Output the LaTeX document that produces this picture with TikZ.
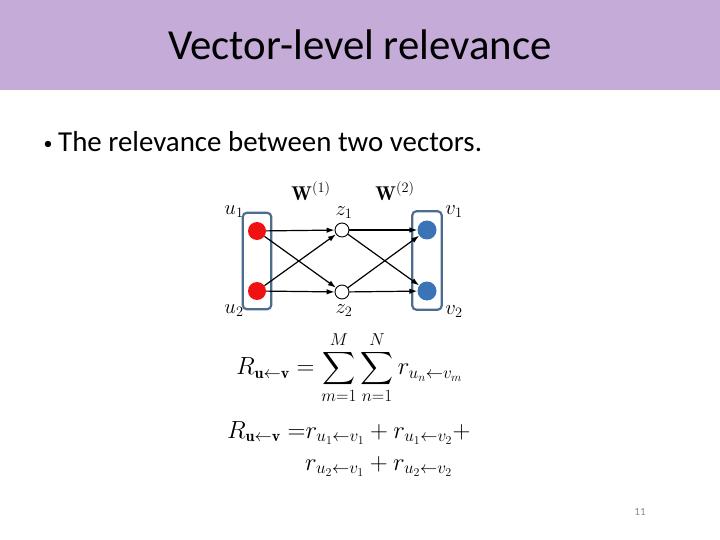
\documentclass[tikz,border=0pt]{standalone}
\usepackage{amsmath,amssymb}
\usepackage{fontspec}
\setsansfont{Carlito}
\usepackage{tikz}
\usetikzlibrary{positioning,arrows.meta,fit}
\definecolor{banner}{HTML}{C4ABD8}
\definecolor{boxedge}{HTML}{4E6D8E}
\definecolor{inred}{HTML}{F01212}
\definecolor{outblue}{HTML}{3A74B6}
\definecolor{pagegray}{HTML}{8C8C8C}

\begin{document}
\begin{tikzpicture}[x=1bp,y=-1bp,
    inunit/.style={circle,fill=inred,minimum size=18bp,inner sep=0pt},
    hidunit/.style={circle,draw=black,line width=0.9bp,fill=white,minimum size=14bp,inner sep=0pt},
    outunit/.style={circle,fill=outblue,minimum size=19bp,inner sep=0pt},
    layerbox/.style={draw=boxedge,line width=2.2bp,rounded corners=4bp,inner xsep=5bp,inner ysep=9bp},
    wire/.style={-{Latex[length=8bp,width=5.5bp]},line width=1.2bp},
    lbl/.style={inner sep=0pt,font=\fontsize{20}{24}\selectfont},
    eqn/.style={inner sep=0pt,font=\fontsize{23}{28}\selectfont}]
    \useasboundingbox (0,0) rectangle (720,540);
    \fill[banner] (0,0) rectangle (720,90);
    \node (title) at (360,45) {\sffamily\fontsize{43}{50}\selectfont Vector-level relevance};
    \node[inner sep=0pt] (bullet) at (48,145) {\sffamily\fontsize{18}{22}\selectfont\textbullet};
    \node[anchor=base west,inner sep=0pt] (point) at (58,152) {\sffamily\fontsize{29}{34}\selectfont The relevance between two vectors.};

    % network
    \node[inunit] (u1) at (257,231) {};
    \node[inunit] (u2) at (257,291) {};
    \node[hidunit] (z1) at (342,230) {};
    \node[hidunit] (z2) at (342,292) {};
    \node[outunit] (v1) at (427,230) {};
    \node[outunit] (v2) at (427,291) {};
    \node[layerbox,fit=(u1)(u2)] (ubox) {};
    \node[layerbox,fit=(v1)(v2)] (vbox) {};
    \foreach \a in {u1,u2} \foreach \b in {z1,z2} \draw[wire] (\a) -- (\b);
    \foreach \a in {z1,z2} \foreach \b in {v1,v2} \draw[wire] (\a) -- (\b);

    \node[lbl] (lu1) at (234,212) {$u_1$};
    \node[lbl] (lu2) at (234,311) {$u_2$};
    \node[lbl] (lz1) at (344,213) {$z_1$};
    \node[lbl] (lz2) at (344,311) {$z_2$};
    \node[lbl] (lv1) at (454,212) {$v_1$};
    \node[lbl] (lv2) at (454,312) {$v_2$};
    \node[lbl] (w1) at (311,191) {$\mathbf{W}^{(1)}$};
    \node[lbl] (w2) at (395,191) {$\mathbf{W}^{(2)}$};

    % equations
    \node[eqn,anchor=west] (sumall) at (236,368) {$\displaystyle R_{\mathbf{u}\leftarrow\mathbf{v}} = \sum_{m=1}^{M}\sum_{n=1}^{N} r_{u_n\leftarrow v_m}$};
    \node[eqn,anchor=base west] (sumone) at (227,438) {$R_{\mathbf{u}\leftarrow\mathbf{v}}\;{=}r_{u_1\leftarrow v_1} + r_{u_1\leftarrow v_2} +$};
    \node[eqn,anchor=base west] (sumtwo) at (305,470) {$r_{u_2\leftarrow v_1} + r_{u_2\leftarrow v_2}$};

    \node[text=pagegray] (page) at (640,512) {\sffamily\fontsize{11}{13}\selectfont 11};
\end{tikzpicture}
\end{document}
